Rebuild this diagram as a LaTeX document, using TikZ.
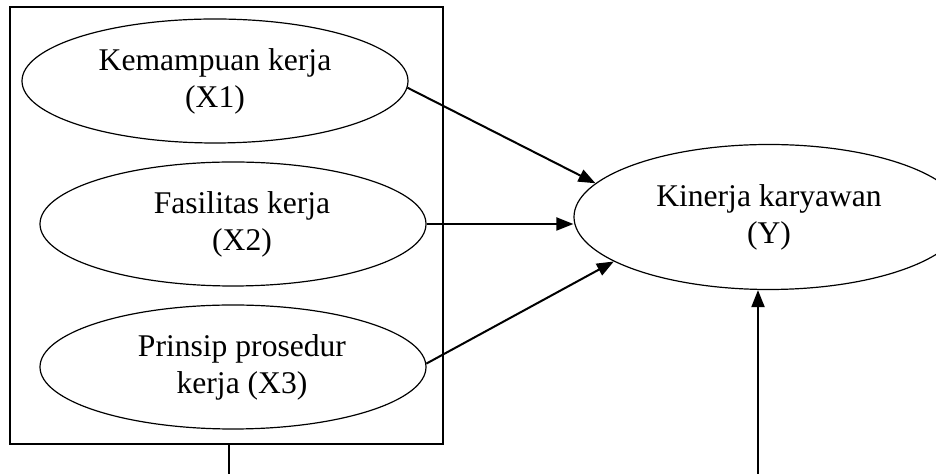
\documentclass[tikz,border=0pt]{standalone}
\usepackage{fontspec}
\setmainfont{Liberation Serif}
\usepackage{tikz}
\usetikzlibrary{shapes.geometric, arrows.meta, positioning}

\begin{document}
\begin{tikzpicture}[
  x=0.5pt, y=-0.5pt,
  varx/.style={ellipse, draw=black, line width=0.6pt, minimum width=193pt, minimum height=62pt, inner sep=0pt, align=center, font=\fontsize{15.8}{18.5}\selectfont},
  vary/.style={varx, minimum width=195pt, minimum height=72.5pt},
  group/.style={rectangle, draw=black, line width=0.6pt, minimum width=216.5pt, minimum height=218.5pt},
  arr/.style={-{Triangle[length=8.5pt, width=6.5pt]}, line width=1pt},
]
\useasboundingbox (0,0) rectangle (936,474);

\node[group] (box) at (226.5,225.5) {};
\node[varx] (e1) at (215,81) {Kemampuan kerja\\(X1)};
\node[varx] (e2) at (233,224) {\hspace*{9pt}Fasilitas kerja\\\hspace*{9pt}(X2)};
\node[varx] (e3) at (233,367) {\hspace*{9pt}Prinsip prosedur\\\hspace*{9pt}kerja (X3)};
\node[vary] (y) at (769,217) {Kinerja karyawan\\(Y)};

\draw[arr] (e1.-2) -- (y.169);
\draw[arr] (e2.east) -- (e2.east -| y.west);
\draw[arr] (e3.1) -- (y.196);

% simultan
\draw[arr] ([xshift=1.25pt]box.south) -- ++(0,50) -| ([xshift=-5.5pt]y.south);
\end{tikzpicture}
\end{document}
